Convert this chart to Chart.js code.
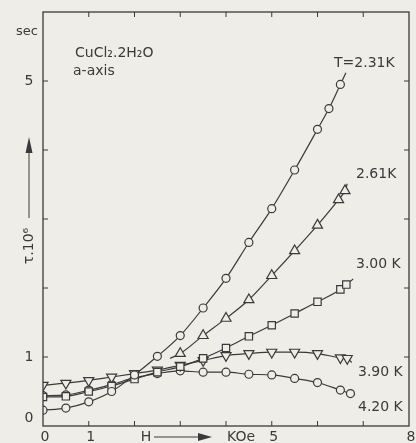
<!DOCTYPE html>
<html>
<head>
<meta charset="utf-8">
<script src="https://cdn.jsdelivr.net/npm/chart.js@4/dist/chart.umd.min.js"></script>
<style>
  html, body { margin: 0; padding: 0; background: #eeede8; }
  canvas { display: block; }
</style>
</head>
<body>
<canvas id="tauChart" width="416" height="443"></canvas>
<script>
// Relaxation time tau (units of 1e-6 sec) vs field H (kOe), CuCl2.2H2O a-axis
const field231 = [0, 0.5, 1, 1.5, 2, 2.5, 3, 3.5, 4, 4.5, 5, 5.5, 6, 6.25, 6.5, 6.62];
const tau231 = [0.23, 0.26, 0.35, 0.5, 0.74, 1.01, 1.31, 1.71, 2.14, 2.66, 3.15, 3.71, 4.3, 4.6, 4.95, 5.12];

const field261 = [2.78, 3, 3.5, 4, 4.5, 5, 5.5, 6, 6.46, 6.6, 6.65];
const tau261 = [0.98, 1.05, 1.31, 1.56, 1.83, 2.18, 2.54, 2.91, 3.28, 3.41, 3.51];

const field300 = [0, 0.5, 1, 1.5, 2, 2.5, 3, 3.5, 4, 4.5, 5, 5.5, 6, 6.5, 6.63, 6.78];
const tau300 = [0.42, 0.43, 0.5, 0.58, 0.68, 0.78, 0.86, 0.98, 1.13, 1.3, 1.46, 1.63, 1.8, 1.98, 2.05, 2.13];

const field390 = [0, 0.5, 1, 1.5, 2, 2.5, 3, 3.5, 4, 4.5, 5, 5.5, 6, 6.5, 6.65, 6.75];
const tau390 = [0.59, 0.62, 0.66, 0.71, 0.76, 0.81, 0.88, 0.95, 1.02, 1.05, 1.07, 1.07, 1.05, 0.99, 0.98, 0.92];

const field420 = [0, 0.5, 1, 1.5, 2, 2.5, 3, 3.5, 4, 4.5, 5, 5.5, 6, 6.5, 6.72, 6.82];
const tau420 = [0.44, 0.45, 0.52, 0.6, 0.7, 0.76, 0.8, 0.78, 0.78, 0.75, 0.74, 0.69, 0.63, 0.52, 0.47, 0.45];

// points that only carry the hand-drawn line, no marker
const lineOnly231 = [15];
const lineOnly261 = [0, 10];
const lineOnly300 = [15];
const lineOnly390 = [15];
const lineOnly420 = [15];

const xTickLabels = [0, 1, 5, 8];
const yTickLabels = [0, 1, 5];
const xTickMarks = [1, 2, 3, 4, 5, 6, 7];
const yTickMarks = [1, 2, 3, 4, 5];

const curveLabels = ["T=2.31K", "2.61K", "3.00 K", "3.90 K", "4.20 K"];

const ink = "#3a3a3a";
const paper = "#eeede8";
const font = '"DejaVu Sans", sans-serif';

function toPoints(xs, ys) {
  return xs.map((x, i) => ({ x: x, y: ys[i] }));
}

function series(xs, ys, style, radius, rotation, hidden) {
  return {
    data: toPoints(xs, ys),
    borderColor: ink,
    borderWidth: 1.2,
    pointStyle: style,
    pointRotation: rotation,
    pointRadius: (c) => (hidden.includes(c.dataIndex) ? 0 : radius),
    pointBorderColor: ink,
    pointBackgroundColor: paper,
    pointBorderWidth: 1.2,
    cubicInterpolationMode: "monotone",
    fill: false,
  };
}

// frame with inward ticks, axis captions and curve labels
const decorations = {
  id: "decorations",
  afterDraw(chart) {
    const { ctx, chartArea: a, scales } = chart;
    const xs = scales.x, ys = scales.y;
    ctx.save();
    ctx.strokeStyle = ink;
    ctx.fillStyle = ink;
    ctx.lineWidth = 1.3;
    ctx.strokeRect(a.left, a.top, a.right - a.left, a.bottom - a.top);

    ctx.lineWidth = 1;
    ctx.beginPath();
    xTickMarks.forEach((v) => {
      const px = xs.getPixelForValue(v);
      ctx.moveTo(px, a.bottom); ctx.lineTo(px, a.bottom - 5);
      ctx.moveTo(px, a.top); ctx.lineTo(px, a.top + 5);
    });
    yTickMarks.forEach((v) => {
      const py = ys.getPixelForValue(v);
      ctx.moveTo(a.left, py); ctx.lineTo(a.left + 5, py);
      ctx.moveTo(a.right, py); ctx.lineTo(a.right - 5, py);
    });
    ctx.stroke();

    ctx.font = "14px " + font;
    ctx.textAlign = "center";
    ctx.textBaseline = "middle";
    yTickLabels.forEach((v) => {
      const py = ys.getPixelForValue(v) - (v === 0 ? 8 : 0);
      ctx.fillText(String(v), 29, py);
    });
    xTickLabels.forEach((v) => {
      ctx.fillText(String(v), xs.getPixelForValue(v) + 2, 437);
    });
    ctx.font = "13px " + font;
    ctx.fillText("sec", 27, 32);

    // H ---> KOe
    ctx.font = "14px " + font;
    ctx.fillText("H", 146, 437);
    ctx.beginPath();
    ctx.moveTo(154, 437); ctx.lineTo(200, 437);
    ctx.stroke();
    ctx.beginPath();
    ctx.moveTo(212, 437); ctx.lineTo(198, 433); ctx.lineTo(198, 441);
    ctx.closePath();
    ctx.fill();
    ctx.fillText("KOe", 241, 437);

    // tau.10^6 with upward arrow
    ctx.beginPath();
    ctx.moveTo(29, 218); ctx.lineTo(29, 150);
    ctx.stroke();
    ctx.beginPath();
    ctx.moveTo(29, 137); ctx.lineTo(25.5, 153); ctx.lineTo(32.5, 153);
    ctx.closePath();
    ctx.fill();
    ctx.save();
    ctx.translate(29, 246);
    ctx.rotate(-Math.PI / 2);
    ctx.fillText("τ.10⁶", 0, 0);
    ctx.restore();

    ctx.textAlign = "left";
    ctx.fillText("CuCl₂.2H₂O", 75, 53);
    ctx.fillText("a-axis", 73, 71);

    const labelPos = [[334, 63], [356, 174], [356, 264], [358, 372], [358, 407]];
    curveLabels.forEach((t, i) => ctx.fillText(t, labelPos[i][0], labelPos[i][1]));
    ctx.restore();
  },
};

new Chart(document.getElementById("tauChart").getContext("2d"), {
  type: "scatter",
  data: {
    datasets: [
      series(field231, tau231, "circle", 4, 0, lineOnly231),
      series(field261, tau261, "triangle", 5.8, 0, lineOnly261),
      series(field300, tau300, "rect", 5.2, 0, lineOnly300),
      series(field390, tau390, "triangle", 5.8, 180, lineOnly390),
      series(field420, tau420, "circle", 4, 0, lineOnly420),
    ].map((d) => Object.assign(d, { showLine: true })),
  },
  options: {
    responsive: false,
    animation: false,
    layout: { padding: { left: 43, right: 1, top: 12, bottom: 17 } },
    scales: {
      x: { type: "linear", min: 0, max: 8, display: false },
      y: { type: "linear", min: 0, max: 6, display: false },
    },
    plugins: { legend: { display: false }, tooltip: { enabled: false } },
  },
  plugins: [decorations],
});
</script>
</body>
</html>
